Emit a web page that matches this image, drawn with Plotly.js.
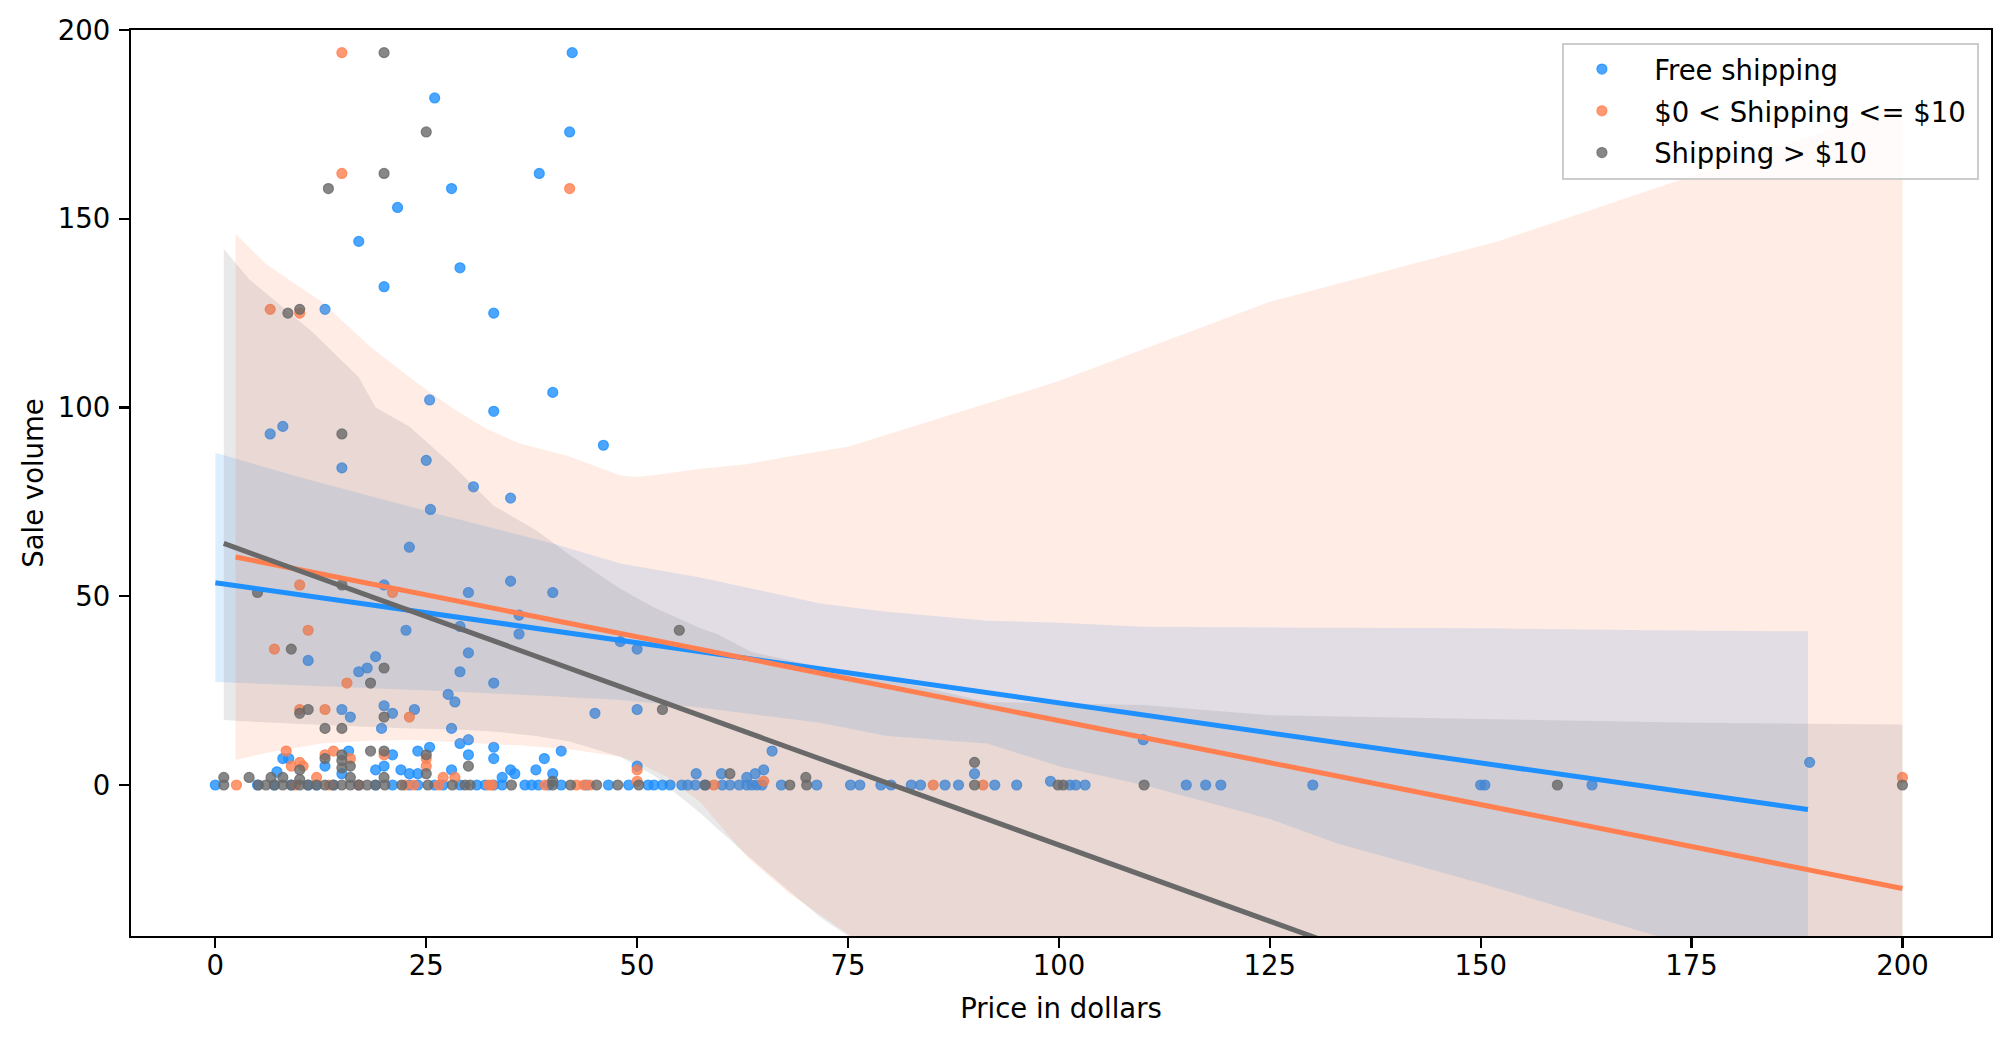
<!DOCTYPE html>
<html>
<head>
<meta charset="utf-8">
<script src="https://cdn.plot.ly/plotly-3.0.1.min.js"></script>
<style>
  html, body { margin: 0; padding: 0; background: #fff; }
  #myDiv { width: 2011px; height: 1043px; }
</style>
</head>
<body>
<div id="myDiv"></div>
<script>
// ---- scatter points ----
// Free shipping
var freeX = [
  42.3, 26, 42, 38.4, 28, 21.6, 17, 29, 20, 13,
  33, 40, 25.4, 33, 46, 8, 6.5, 15, 25, 30.6,
  35, 25.5, 23, 35, 20, 30, 40, 36, 29, 22.6,
  36, 48, 50, 11, 19, 18, 17, 30, 29, 33,
  27.6, 28.4, 45, 50, 15, 16, 20, 21, 23.6, 19.7,
  28, 29, 30, 33, 33, 41, 39, 30, 25.4, 24,
  21, 8, 8.7, 13, 7.3, 19, 20, 22, 23, 28,
  35, 35.5, 38, 40, 34, 50, 57, 60, 63, 64,
  65, 66, 90, 99, 110, 189, 15, 24, 15.8,
  0, 5, 7, 9, 11, 12, 14, 17, 19, 21,
  23, 24, 26, 27, 29, 31, 32, 33, 34, 36.7,
  37.5, 38.3, 39.5, 41, 44, 46.6, 49, 51.3, 52, 53,
  53.9, 55.3, 56, 56.9, 58, 60.1, 61, 62.1, 63, 63.6,
  64.2, 64.8, 67.1, 71.3, 75.3, 76.4, 78.9, 80.1, 82.5, 83.6,
  86.5, 88.1, 92.4, 95, 101.3, 102, 103.1, 115.1, 117.4, 119.2,
  130.1, 150, 150.5, 163.2
];
var freeY = [
  194, 182, 173, 162, 158, 153, 144, 137, 132, 126,
  125, 104, 102, 99, 90, 95, 93, 84, 86, 79,
  76, 73, 63, 54, 53, 51, 51, 45, 42, 41,
  40, 38, 36, 33, 34, 31, 30, 35, 30, 27,
  24, 22, 19, 20, 20, 18, 21, 19, 20, 15,
  15, 11, 12, 10, 7, 9, 7, 8, 10, 9,
  8, 7, 7, 5, 3.5, 4, 5, 4, 3, 4,
  4, 3, 4, 3, 2, 5, 3, 3, 2, 3,
  4, 9, 3, 1, 12, 6, 3, 3, 9,
  0, 0, 0, 0, 0, 0, 0, 0, 0, 0,
  0, 0, 0, 0, 0, 0, 0, 0, 0, 0,
  0, 0, 0, 0, 0, 0, 0, 0, 0, 0,
  0, 0, 0, 0, 0, 0, 0, 0, 0, 0,
  0, 0, 0, 0, 0, 0, 0, 0, 0, 0,
  0, 0, 0, 0, 0, 0, 0, 0, 0, 0,
  0, 0, 0, 0
];

// $0 < Shipping <= $10
var shipX = [
  15, 15, 42, 6.5, 10, 10, 21, 11, 7, 15.6,
  10, 13, 23, 8.4, 9, 10, 10.4, 12, 13, 14,
  16, 20, 25, 25, 27, 28.4, 50, 50, 65, 200,
  2.5, 9.5, 13.5, 17, 22.5, 23.5, 26.5, 32.4, 32.8, 39.1,
  42.8, 43.7, 44.4, 59.1, 85.1, 91
];
var shipY = [
  194, 162, 158, 126, 125, 53, 51, 41, 36, 27,
  20, 20, 18, 9, 5, 6, 5, 2, 8, 9,
  7, 8, 7, 5, 2, 2, 4, 1, 1, 2,
  0, 0, 0, 0, 0, 0, 0, 0, 0, 0,
  0, 0, 0, 0, 0, 0
];

// Shipping > $10
var overX = [
  20, 25, 20, 13.4, 8.6, 10, 15, 5, 15, 55,
  9, 20, 18.4, 10, 11, 53, 20, 13, 15, 1,
  4, 6.6, 8, 10, 13, 15, 15, 15, 16, 16,
  18.4, 20, 25, 25, 30, 40, 20, 10, 61, 70,
  90,
  1, 5.1, 6, 7, 8, 9, 10, 11, 12, 13,
  14, 15, 16, 17, 18, 19, 20.1, 22.1, 25.2, 28.1,
  29.6, 30.2, 35.1, 40, 42.1, 45.2, 47.7, 50.2, 58.1, 68.1,
  70.1, 90, 99.9, 100.5, 110.1, 159.1, 200
];
var overY = [
  194, 173, 162, 158, 125, 126, 93, 51, 53, 41,
  36, 31, 27, 19, 20, 20, 18, 15, 15, 2,
  2, 2, 2, 4, 7, 8, 6.5, 4.5, 5, 2,
  9, 9, 8, 3, 5, 1, 2, 1.5, 3, 2,
  6,
  0, 0, 0, 0, 0, 0, 0, 0, 0, 0,
  0, 0, 0, 0, 0, 0, 0, 0, 0, 0,
  0, 0, 0, 0, 0, 0, 0, 0, 0, 0,
  0, 0, 0, 0, 0, 0, 0
];

// ---- fitted lines (end points) ----
var freeFitX = [0, 188.8];
var freeFitY = [53.6, -6.5];
var shipFitX = [2.4, 200];
var shipFitY = [60.4, -27.4];
var overFitX = [1, 200];
var overFitY = [64, -96.6];

// ---- confidence bands ----
var freeBandX = [0, 10, 26, 40, 48, 57.5, 71.7, 79.6, 91.5, 100, 110, 125, 133, 150, 170, 188.8];
var freeBandHi = [88, 81.5, 72, 64, 58.7, 55, 48.1, 45.9, 43.5, 43, 41.9, 41.8, 41.7, 41.5, 41, 40.7];
var freeBandLo = [27.3, 26.5, 25, 23.5, 22.5, 20.5, 16.5, 13, 11, 5, 0, -9, -15.5, -26, -39.5, -52];

var shipBandX = [2.4, 6, 12.6, 18.4, 23.6, 28, 32, 36, 42, 48, 50, 53.5, 57.5, 63, 68, 75, 100, 125, 152, 176, 200];
var shipBandHi = [146, 138, 128, 116, 107, 100, 94.5, 90.5, 87, 82, 81.6, 82.5, 83.8, 85, 87, 89.6, 107, 128, 144, 162, 180];
var shipBandLo = [6.6, 8.5, 11, 11.8, 11.9, 11.5, 11, 10.5, 9.5, 7.5, 6, 2.2, -4.5, -19, -28.7, -39.5, -80, -125, -175, -215, -255];

var overBandX = [1, 4, 11.5, 17, 19, 23, 28, 33, 38, 42, 48, 52, 57.5, 59.5, 63.5, 65, 71.7, 75, 83.6, 91.5, 110, 125, 150, 175, 200];
var overBandHi = [142, 134, 120, 108, 100, 95, 85, 74, 67.5, 61, 52, 47, 41.5, 40, 35.3, 34.5, 31.3, 30, 26, 22, 21.2, 18.5, 17.5, 16.5, 16];
var overBandLo = [17.2, 16.8, 16, 15.5, 15.3, 15, 14.8, 14.2, 13, 11.5, 7.5, 2.5, -7.5, -11.5, -19.5, -22.5, -35, -40, -55, -68, -100, -140, -190, -240, -290];

var names = [
  '&nbsp;&#8201;Free shipping&#8201;',
  '&nbsp;&#8201;$0 &lt; Shipping &lt;= $10&#8201;',
  '&nbsp;&#8201;Shipping &gt; $10&#8201;'
];
var rgb = ['30,144,255', '255,127,80', '105,105,105'];

function points(x, y, i) {
  return {
    x: x, y: y, type: 'scatter', mode: 'markers', name: names[i],
    legendgroup: 'g' + i, hoverinfo: 'skip',
    marker: { size: 10, color: 'rgba(' + rgb[i] + ',0.8)',
              line: { width: 1.2, color: 'rgba(' + rgb[i] + ',0.8)' } }
  };
}
function band(x, hi, lo, i) {
  return {
    x: x.concat(x.slice().reverse()),
    y: hi.concat(lo.slice().reverse()),
    type: 'scatter', mode: 'lines', fill: 'toself',
    fillcolor: 'rgba(' + rgb[i] + ',0.15)', line: { width: 0 },
    showlegend: false, hoverinfo: 'skip'
  };
}
function fit(x, y, i) {
  return {
    x: x, y: y, type: 'scatter', mode: 'lines',
    line: { width: 5, color: 'rgb(' + rgb[i] + ')' },
    showlegend: false, hoverinfo: 'skip'
  };
}

var data = [
  points(freeX, freeY, 0), band(freeBandX, freeBandHi, freeBandLo, 0),
  points(shipX, shipY, 1), band(shipBandX, shipBandHi, shipBandLo, 1),
  points(overX, overY, 2), band(overBandX, overBandHi, overBandLo, 2),
  fit(freeFitX, freeFitY, 0), fit(shipFitX, shipFitY, 1), fit(overFitX, overFitY, 2)
];

var axisStyle = {
  showgrid: false, zeroline: false,
  showline: true, mirror: true, linecolor: '#000', linewidth: 2.2,
  ticks: 'outside', ticklen: 10, tickwidth: 2.2, tickcolor: '#000',
  tickfont: { family: 'DejaVu Sans', size: 27.5, color: '#000' }
};

var layout = {
  width: 2011, height: 1043,
  margin: { l: 131, r: 20, t: 30, b: 107, pad: 0 },
  paper_bgcolor: '#fff', plot_bgcolor: '#fff',
  font: { family: 'DejaVu Sans', size: 27.5, color: '#000' },
  xaxis: Object.assign({}, axisStyle, {
    range: [-10, 210.5], tick0: 0, dtick: 25, ticklabelstandoff: -6,
    title: { text: 'Price in dollars', standoff: 19, font: { size: 27.5 } }
  }),
  yaxis: Object.assign({}, axisStyle, {
    range: [-40, 200], tick0: 0, dtick: 50, ticklabelstandoff: 3,
    title: { text: 'Sale volume', standoff: 6, font: { size: 27.5 } }
  }),
  showlegend: true,
  legend: {
    x: 0.9935, xanchor: 'right', y: 0.986, yanchor: 'top',
    bgcolor: 'rgba(255,255,255,0.8)', bordercolor: '#cccccc', borderwidth: 2,
    font: { family: 'DejaVu Sans', size: 27.5, color: '#000' },
    traceorder: 'grouped', tracegroupgap: 3, itemwidth: 66
  }
};

Plotly.newPlot('myDiv', data, layout, { displayModeBar: false, staticPlot: true });
</script>
</body>
</html>
